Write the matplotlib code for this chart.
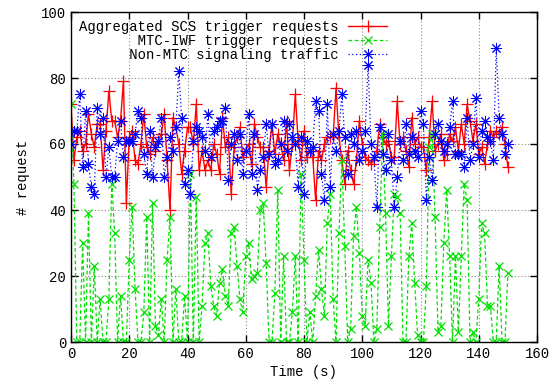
import numpy as np
import matplotlib
matplotlib.use('Agg')
import matplotlib.pyplot as plt

# values, one per second
scs_requests = [72, 55, 62, 64, 58, 60, 69, 63, 59, 66, 66, 52, 64, 76, 67, 67, 62, 67, 79, 42,
                62, 64, 55, 54, 60, 69, 59, 57, 62, 58, 61, 63, 69, 55, 40, 68, 65, 60, 51, 58,
                65, 65, 60, 72, 52, 58, 52, 55, 52, 60, 57, 51, 68, 59, 62, 45, 59, 62, 65, 56,
                58, 60, 54, 66, 62, 59, 59, 47, 58, 66, 57, 63, 60, 55, 67, 52, 60, 75, 61, 55,
                64, 56, 58, 56, 43, 58, 55, 60, 62, 62, 62, 77, 62, 55, 48, 58, 52, 48, 55, 67,
                60, 56, 55, 54, 55, 58, 66, 62, 60, 61, 56, 56, 73, 60, 62, 58, 53, 68, 60, 62,
                59, 59, 52, 62, 73, 58, 60, 63, 55, 57, 63, 61, 65, 58, 66, 60, 72, 67, 61, 66,
                57, 59, 54, 60, 64, 62, 64, 63, 65, 60, 53]

iwf_requests = [72, 48, 0, 0, 30, 0, 39, 0, 23, 0, 13, 0, 0, 13, 48, 33, 0, 14, 0, 0,
                25, 41, 16, 0, 0, 9, 38, 0, 42, 5, 2, 13, 0, 25, 38, 0, 16, 0, 0, 14,
                0, 51, 0, 44, 0, 11, 30, 33, 17, 11, 8, 18, 22, 14, 11, 33, 35, 23, 13, 9,
                26, 30, 19, 20, 21, 40, 42, 24, 0, 0, 15, 46, 0, 26, 0, 0, 9, 26, 0, 51,
                25, 0, 9, 0, 14, 28, 16, 8, 36, 45, 13, 0, 33, 55, 29, 0, 4, 32, 41, 27,
                8, 5, 25, 18, 0, 4, 35, 63, 39, 5, 26, 45, 44, 39, 0, 0, 26, 36, 18, 2,
                0, 0, 17, 59, 63, 38, 3, 5, 30, 46, 26, 0, 26, 3, 26, 48, 43, 0, 3, 0,
                13, 36, 33, 11, 11, 0, 0, 23, 0, 0, 21]

non_mtc_traffic = [60, 64, 64, 75, 53, 70, 54, 47, 45, 71, 63, 68, 50, 59, 50, 50, 61, 67, 56, 61,
                   61, 61, 63, 70, 68, 57, 51, 64, 50, 59, 61, 68, 50, 56, 62, 58, 65, 82, 68, 48,
                   52, 45, 61, 65, 64, 62, 58, 69, 56, 64, 65, 67, 67, 71, 49, 60, 63, 55, 63, 51,
                   58, 69, 51, 63, 46, 52, 56, 66, 57, 66, 54, 55, 60, 67, 58, 66, 62, 60, 47, 62,
                   45, 61, 58, 59, 73, 70, 51, 43, 72, 47, 63, 58, 64, 75, 62, 51, 63, 60, 64, 55,
                   58, 64, 84, 60, 56, 41, 65, 57, 52, 63, 55, 41, 50, 61, 55, 66, 57, 62, 58, 56,
                   70, 66, 43, 56, 49, 63, 66, 61, 58, 60, 65, 73, 57, 57, 57, 53, 68, 55, 60, 74,
                   56, 64, 67, 62, 61, 55, 89, 68, 63, 57, 60]

labels = ['Aggregated SCS trigger requests',
          'MTC-IWF trigger requests',
          'Non-MTC signaling traffic']

x_ticks = [0, 20, 40, 60, 80, 100, 120, 140, 160]
y_ticks = [0, 20, 40, 60, 80, 100]

plt.rcParams['font.family'] = ['Liberation Mono', 'DejaVu Sans Mono']
plt.rcParams['font.size'] = 10

fig = plt.figure(figsize=(5.52, 3.84), dpi=100)
ax = fig.add_axes([71 / 552, 1 - 342 / 384, 466 / 552, 330 / 384])

width = max(len(s) for s in labels)
ax.plot(np.arange(len(scs_requests)), scs_requests, color='#ff0000', lw=1,
        marker='+', ms=8, mew=0.9, label=labels[0].rjust(width))
ax.plot(np.arange(len(iwf_requests)), iwf_requests, color='#00e000', lw=0.9,
        ls=(0, (3, 2)), marker='x', ms=6, mew=0.9, label=labels[1].rjust(width))
ax.plot(np.arange(len(non_mtc_traffic)), non_mtc_traffic, color='#0000ff', lw=0.9,
        ls=(0, (1, 2)), marker=(8, 2, 0), ms=8, mew=0.7, label=labels[2].rjust(width))

ax.set_xlim(0, 160)
ax.set_ylim(0, 100)
ax.set_xticks(x_ticks)
ax.set_yticks(y_ticks)
ax.tick_params(direction='in', top=True, right=True, length=5, width=1)
ax.grid(True, color='#888888', ls=(0, (1, 2)), lw=0.8)
for s in ax.spines.values():
    s.set_linewidth(1)

ax.set_xlabel('Time (s)', labelpad=3)
ax.set_ylabel('# request', labelpad=8)

leg = ax.legend(loc='upper left', bbox_to_anchor=(0.017, 0.976), frameon=False,
                markerfirst=False, handlelength=2.8, handletextpad=0.7,
                labelspacing=0.0, borderaxespad=0.0, borderpad=0.0)

fig.savefig('out.png', dpi=100)
